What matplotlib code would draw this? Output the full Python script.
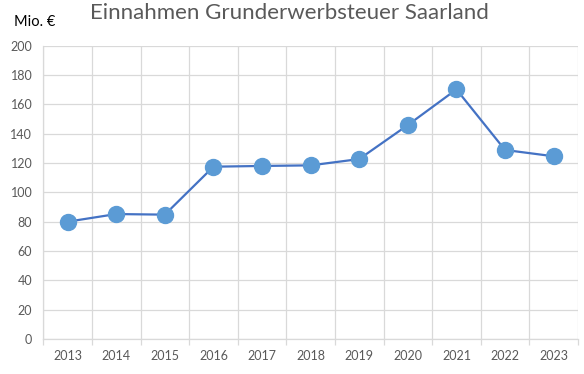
import matplotlib
matplotlib.use('Agg')
import matplotlib.pyplot as plt
import numpy as np

plt.rcParams['font.family'] = ['Lato', 'DejaVu Sans']

# Data
years = ['2013', '2014', '2015', '2016', '2017', '2018', '2019', '2020', '2021', '2022', '2023']
revenue = [80.0, 85.2, 84.8, 117.5, 118.0, 118.4, 122.7, 145.9, 170.2, 128.9, 124.6]
y_ticks = [0, 20, 40, 60, 80, 100, 120, 140, 160, 180, 200]

grey_text = '#595959'
grid_col = '#d9d9d9'

fig = plt.figure(figsize=(5.84, 3.74), dpi=100)
ax = fig.add_axes([0.0742, 0.0936, 0.9154, 0.7842])

x = np.arange(len(years))
ax.plot(x, revenue, color='#4472c4', linewidth=1.6, marker='o',
        markersize=11.5, markerfacecolor='#5b9bd5', markeredgecolor='#5b9bd5', zorder=3)

ax.set_xlim(-0.5, len(years) - 0.5)
ax.set_ylim(0, 200)
ax.set_yticks(y_ticks)
ax.set_xticks(x)
ax.set_xticklabels(years)
ax.set_xticks(np.arange(-0.5, len(years), 1), minor=True)

ax.grid(True, axis='y', color=grid_col, linewidth=0.9)
ax.grid(True, axis='x', which='minor', color=grid_col, linewidth=0.9)
ax.set_axisbelow(True)

for side in ['top', 'right']:
    ax.spines[side].set_visible(False)
ax.spines['left'].set_color(grid_col)
ax.spines['bottom'].set_color(grid_col)
ax.spines['left'].set_linewidth(0.9)
ax.spines['bottom'].set_linewidth(0.9)

ax.tick_params(axis='x', which='major', length=0, pad=8, labelsize=9, labelcolor=grey_text)
ax.tick_params(axis='x', which='minor', length=4, color=grid_col, width=0.9)
ax.tick_params(axis='y', length=0, pad=8, labelsize=9, labelcolor=grey_text)

fig.text(0.496, 0.965, 'Einnahmen Grunderwerbsteuer Saarland', ha='center', va='center',
         fontsize=16, color=grey_text)
fig.text(0.024, 0.94, 'Mio. €', ha='left', va='center', fontsize=10.5, color='black')

fig.savefig('out.png', dpi=100)
